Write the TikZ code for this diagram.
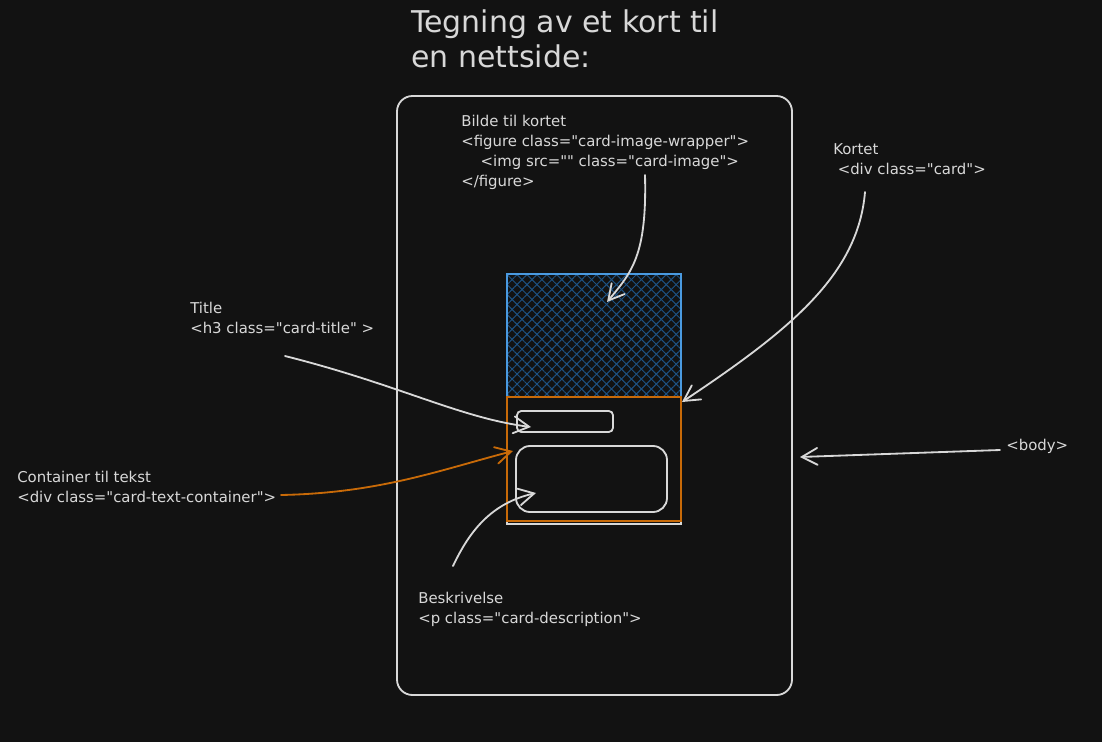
\documentclass[tikz,border=0pt]{standalone}
\usepackage{fontspec}
\setmainfont{DejaVu Sans}[Ligatures=TeXOff]
\usetikzlibrary{arrows.meta,patterns.meta}
\definecolor{bgDark}{HTML}{121212}
\definecolor{inkLight}{HTML}{D8D8D8}
\definecolor{cardOrange}{HTML}{C86A08}
\definecolor{imgBlue}{HTML}{4A9AE0}
\definecolor{hatchBlue}{HTML}{1D5283}

\begin{document}
\begin{tikzpicture}[x=0.025cm, y=-0.025cm,
    note/.style={anchor=base west, align=left, inner sep=0pt, text=inkLight, font=\fontsize{10.6}{14.2}\selectfont},
    heading/.style={anchor=base west, align=left, inner sep=0pt, text=inkLight, font=\fontsize{21.3}{25}\selectfont},
    frame/.style={draw=inkLight, line width=1.3pt},
    pointer/.style={draw=inkLight, line width=1.3pt, line cap=round, -{Straight Barb[length=11pt,width=12pt,line cap=round]}},
    pointerO/.style={pointer, draw=cardOrange}]

    % Background
    \fill[bgDark] (0,0) rectangle (1102,742);

    % Heading (anchored on its last line)
    \node[heading] (head) at (411,68) {Tegning av et kort til\\en nettside:};

    % Body frame
    \draw[frame, rounded corners=11pt] (397,96) rectangle (792,695);

    % Card: image part
    \fill[pattern={Lines[angle=45,distance=5pt,line width=0.7pt]}, pattern color=hatchBlue] (507,274) rectangle (681,397);
    \fill[pattern={Lines[angle=-45,distance=5pt,line width=0.7pt]}, pattern color=hatchBlue] (507,274) rectangle (681,397);
    \draw[frame] (507,274) rectangle (681,524);
    \draw[draw=imgBlue, line width=1.3pt] (507,274) rectangle (681,397);

    % Card: text part
    \draw[draw=cardOrange, line width=1.3pt] (507,397) rectangle (681,521);
    \draw[frame, rounded corners=3pt] (517,411) rectangle (613,432);
    \draw[frame, rounded corners=10pt] (516,446) rectangle (667,512);

    % Labels (anchored on their last line)
    \node[note] (lblImg) at (461,186) {Bilde til kortet\\<figure class="card-image-wrapper">\\\hspace{1.3em}<img src="" class="card-image">\\</figure>};
    \node[note] (lblCard) at (833,174) {Kortet\\\hspace{0.3em}<div class="card">};
    \node[note] (lblTitle) at (190,333) {Title\\<h3 class="card-title" >};
    \node[note] (lblText) at (17,502) {Container til tekst\\<div class="card-text-container">};
    \node[note] (lblDesc) at (418,623) {Beskrivelse\\<p class="card-description">};
    \node[note] (lblBody) at (1006,450) {<body>};

    % Arrow ends
    \coordinate (imgFrom) at (645,175);
    \coordinate (imgTo) at (607,302);
    \coordinate (cardFrom) at (865,192);
    \coordinate (cardTo) at (682,402);
    \coordinate (titleFrom) at (285,356);
    \coordinate (titleTo) at (531,427);
    \coordinate (textFrom) at (281,495);
    \coordinate (textTo) at (513,451);
    \coordinate (descFrom) at (453,566);
    \coordinate (descTo) at (536,493);
    \coordinate (bodyFrom) at (1000,450);
    \coordinate (bodyTo) at (800,457);

    % Arrows
    \draw[pointer] (imgFrom) .. controls (647,255) and (632,272) .. (imgTo);
    \draw[pointer] (cardFrom) .. controls (858,275) and (790,330) .. (cardTo);
    \draw[pointer] (titleFrom) .. controls (400,385) and (460,418) .. (titleTo);
    \draw[pointerO] (textFrom) .. controls (380,493) and (440,470) .. (textTo);
    \draw[pointer] (descFrom) .. controls (470,530) and (492,503) .. (descTo);
    \draw[pointer] (bodyFrom) -- (bodyTo);

\end{tikzpicture}
\end{document}
